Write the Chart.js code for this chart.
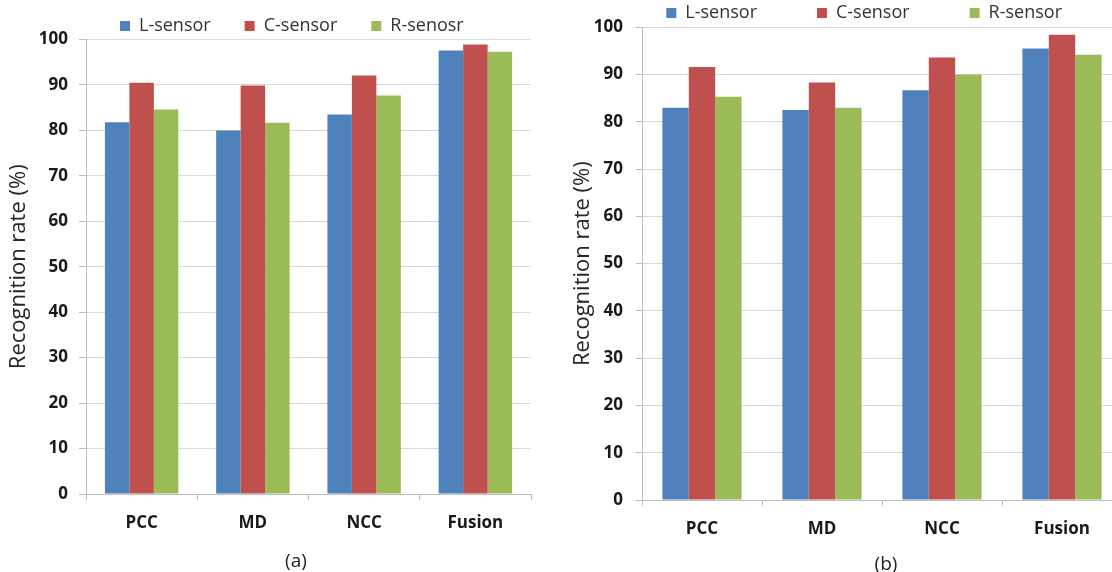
<!DOCTYPE html>
<html>
<head>
<meta charset="utf-8">
<script src="https://cdn.jsdelivr.net/npm/chart.js@4.4.1/dist/chart.umd.min.js"></script>
<style>
  html, body { margin: 0; padding: 0; background: #ffffff; overflow: hidden; }
  body { position: relative; width: 1112px; height: 572px; }
  canvas { position: absolute; }
  .caption { position: absolute; font-family: "Open Sans", sans-serif; font-size: 19px; color: #222; transform: translate(-50%, -50%); white-space: nowrap; }
</style>
</head>
<body>
<canvas id="chartA" width="545" height="589" style="left:0px; top:-17px;"></canvas>
<canvas id="chartB" width="576" height="628" style="left:556px; top:-56px;"></canvas>
<div class="caption" style="left:296px; top:560px;">(a)</div>
<div class="caption" style="left:886px; top:563px;">(b)</div>
<script>
// Matching methods compared in both panels
const categories = ['PCC', 'MD', 'NCC', 'Fusion'];

// Panel (a): recognition rate (%) per sensor
const seriesNamesA = ['L-sensor', 'C-sensor', 'R-senosr'];
const lSensorA = [81.8, 80.0, 83.5, 97.6];
const cSensorA = [90.5, 89.9, 92.1, 98.9];
const rSensorA = [84.6, 81.7, 87.7, 97.3];

// Panel (b): recognition rate (%) per sensor
const seriesNamesB = ['L-sensor', 'C-sensor', 'R-sensor'];
const lSensorB = [83.0, 82.5, 86.7, 95.5];
const cSensorB = [91.6, 88.3, 93.6, 98.4];
const rSensorB = [85.3, 83.0, 90.0, 94.2];

// Value axis
const yTicks = [0, 10, 20, 30, 40, 50, 60, 70, 80, 90, 100];
const yTitle = 'Recognition rate (%)';

const seriesColors = ['#4F81BD', '#C0504D', '#9BBB59'];
const FONT = '"Open Sans", "DejaVu Sans", sans-serif';

function makeChart(canvasId, names, values, cfg) {
  const datasets = names.map((name, i) => ({
    label: name,
    data: values[i],
    backgroundColor: seriesColors[i],
    borderWidth: 0,
    categoryPercentage: 0.66,
    barPercentage: 1.0
  }));
  return new Chart(document.getElementById(canvasId), {
    type: 'bar',
    data: { labels: categories, datasets },
    options: {
      responsive: false,
      animation: false,
      devicePixelRatio: 1,
      layout: { padding: { left: 0, right: cfg.padRight, top: 0, bottom: 0 } },
      plugins: {
        tooltip: { enabled: false },
        legend: {
          display: true,
          position: 'top',
          align: cfg.legendAlign,
          fullSize: cfg.legendFull,
          maxHeight: cfg.legendHeight,
          labels: {
            boxWidth: 10,
            boxHeight: 10,
            padding: cfg.legendPadding,
            color: '#333333',
            font: { family: FONT, size: 18 }
          }
        }
      },
      scales: {
        x: {
          grid: {
            display: true,
            offset: true,
            drawOnChartArea: false,
            drawTicks: true,
            tickLength: 6,
            tickColor: '#bdbdbd'
          },
          border: { display: true, color: '#bdbdbd', width: 1 },
          ticks: {
            color: '#1a1a1a',
            padding: 13,
            font: { family: FONT, size: 17, weight: 'bold' }
          },
          afterFit: (scale) => { scale.height = cfg.xAxisHeight; }
        },
        y: {
          min: 0,
          max: 100,
          afterBuildTicks: (scale) => { scale.ticks = yTicks.map(v => ({ value: v })); },
          grid: {
            color: '#d9d9d9',
            tickColor: '#bdbdbd',
            tickLength: cfg.yTickLength,
            lineWidth: 1
          },
          border: { display: true, color: '#bdbdbd', width: 1 },
          ticks: {
            color: '#1a1a1a',
            padding: cfg.yTickPadding,
            font: { family: FONT, size: 17, weight: 'bold' }
          },
          title: {
            display: true,
            text: yTitle,
            color: '#262626',
            padding: { top: cfg.titlePad, bottom: 0 },
            font: { family: FONT, size: 22, weight: 'normal' }
          },
          afterFit: (scale) => { scale.width = cfg.yAxisWidth; }
        }
      }
    }
  });
}

makeChart('chartA', seriesNamesA, [lSensorA, cSensorA, rSensorA], {
  padRight: 14,
  legendAlign: 'start',
  legendFull: false,
  legendPadding: 34,
  legendHeight: 56.5,
  xAxisHeight: 78,
  yAxisWidth: 86,
  yTickLength: 7,
  yTickPadding: 11,
  titlePad: 5.8
});

makeChart('chartB', seriesNamesB, [lSensorB, cSensorB, rSensorB], {
  padRight: 10,
  legendAlign: 'end',
  legendFull: true,
  legendPadding: 60,
  legendHeight: 83.3,
  xAxisHeight: 72,
  yAxisWidth: 86,
  yTickLength: 6,
  yTickPadding: 13,
  titlePad: 13.8
});
</script>
</body>
</html>
